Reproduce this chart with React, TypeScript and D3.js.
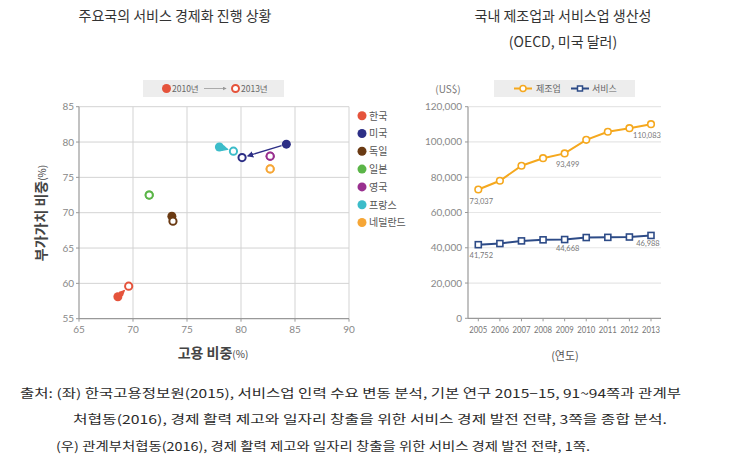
import React from 'react';
import * as d3 from 'd3';

// ---------- Left chart data ----------
const countries = ['한국', '미국', '독일', '일본', '영국', '프랑스', '네덜란드'];
const countryColors = ['#e5533b', '#2d2f86', '#6a3a13', '#5bb548', '#99308f', '#3cbcc9', '#f6a636'];
const emp2010 = [68.6, 84.2, 73.6, 71.5, 82.7, 78.0, 82.7];
const va2010 = [58.1, 79.7, 69.5, 72.5, 78.0, 79.3, 76.2];
const emp2013 = [69.6, 80.1, 73.7, 71.5, 82.7, 79.3, 82.7];
const va2013 = [59.6, 77.8, 68.8, 72.5, 78.0, 78.7, 76.2];
const arrowCountries = ['한국', '미국', '프랑스'];
const xTicksL = [65, 70, 75, 80, 85, 90];
const yTicksL = [55, 60, 65, 70, 75, 80, 85];

// ---------- Right chart data ----------
const years = ['2005', '2006', '2007', '2008', '2009', '2010', '2011', '2012', '2013'];
const manufacturing = [73037, 78000, 86500, 90800, 93499, 101200, 105800, 107800, 110083];
const services = [41752, 42400, 43900, 44500, 44668, 45800, 45900, 46100, 46988];
const labeledIdx = [0, 4, 8];
const yTicksR = [0, 20000, 40000, 60000, 80000, 100000, 120000];

const KR = '"Noto Sans CJK KR", "Noto Sans", sans-serif';

export default function App() {
  // left scales
  const xL = d3.scaleLinear().domain([65, 90]).range([79, 349]);
  const yL = d3.scaleLinear().domain([55, 85]).range([318.7, 106.7]);
  // right scales
  const xR = d3.scalePoint<string>().domain(years).range([478.3, 651]);
  const yR = d3.scaleLinear().domain([0, 120000]).range([318.3, 106.7]);
  const fmt = d3.format(',');

  const lineGen = (vals: number[]) =>
    d3.line<number>().x((_, i) => xR(years[i]) as number).y((v) => yR(v))(vals) as string;

  const arrowLine = (i: number) => {
    const x1 = xL(emp2010[i]), y1 = yL(va2010[i]);
    const x2 = xL(emp2013[i]), y2 = yL(va2013[i]);
    const dx = x2 - x1, dy = y2 - y1;
    const len = Math.sqrt(dx * dx + dy * dy);
    const ux = dx / len, uy = dy / len;
    const s = 5, e = 6;
    return { x1: x1 + ux * s, y1: y1 + uy * s, x2: x2 - ux * e, y2: y2 - uy * e };
  };

  return (
    <svg width={731} height={472} style={{ position: 'absolute', left: 0, top: 0, background: '#fff' }}
      fontFamily={KR}>
      <defs>
        {countries.map((c, i) => (
          <marker key={c} id={`ah${i}`} viewBox="0 0 6 6" refX={5} refY={3} markerWidth={5} markerHeight={5}
            orient="auto">
            <path d="M0,0 L6,3 L0,6 Z" fill={countryColors[i]} />
          </marker>
        ))}
        <marker id="ahgray" viewBox="0 0 6 6" refX={5} refY={3} markerWidth={5} markerHeight={5} orient="auto">
          <path d="M0,0 L6,3 L0,6 Z" fill="#999" />
        </marker>
      </defs>

      {/* Titles */}
      <text x={175} y={21} textAnchor="middle" fontSize={14} fill="#333">주요국의 서비스 경제화 진행 상황</text>
      <text x={563} y={21} textAnchor="middle" fontSize={14} fill="#333">국내 제조업과 서비스업 생산성</text>
      <text x={563} y={47} textAnchor="middle" fontSize={14} fill="#333">(OECD, 미국 달러)</text>

      {/* ---------- LEFT CHART ---------- */}
      {/* legend box */}
      <rect x={143} y={80} width={141} height={17} fill="#ededed" />
      <circle cx={166.5} cy={88.5} r={4.5} fill={countryColors[0]} />
      <text x={172} y={92} fontSize={8.5} fill="#666">2010년</text>
      <line x1={204} y1={88.5} x2={226} y2={88.5} stroke="#999" strokeWidth={0.8} markerEnd="url(#ahgray)" />
      <circle cx={235.5} cy={88.5} r={3.5} fill="#fff" stroke={countryColors[0]} strokeWidth={2} />
      <text x={241} y={92} fontSize={8.5} fill="#666">2013년</text>

      {/* grid */}
      {xTicksL.slice(1).map((t) => (
        <line key={'gx' + t} x1={xL(t)} x2={xL(t)} y1={yL(85)} y2={yL(55)} stroke="#d3d3d3" strokeWidth={1} />
      ))}
      {yTicksL.slice(1).map((t) => (
        <line key={'gy' + t} x1={xL(65)} x2={xL(90)} y1={yL(t)} y2={yL(t)} stroke="#d3d3d3" strokeWidth={1} />
      ))}
      {/* axes */}
      <line x1={xL(65)} x2={xL(65)} y1={yL(85)} y2={yL(55)} stroke="#999" strokeWidth={1.2} />
      <line x1={xL(65)} x2={xL(90)} y1={yL(55)} y2={yL(55)} stroke="#999" strokeWidth={1.2} />
      {xTicksL.map((t) => (
        <g key={'xt' + t}>
          <line x1={xL(t)} x2={xL(t)} y1={yL(55)} y2={yL(55) + 3} stroke="#999" />
          <text x={xL(t)} y={yL(55) + 14} textAnchor="middle" fontSize={10} fill="#888" fontFamily="Lato, sans-serif">{t}</text>
        </g>
      ))}
      {yTicksL.map((t) => (
        <g key={'yt' + t}>
          <line x1={xL(65) - 3} x2={xL(65)} y1={yL(t)} y2={yL(t)} stroke="#999" />
          <text x={xL(65) - 5} y={yL(t) + 3.5} textAnchor="end" fontSize={10} fill="#888" fontFamily="Lato, sans-serif">{t}</text>
        </g>
      ))}
      {/* axis titles */}
      <text x={213} y={358} textAnchor="middle" fill="#444">
        <tspan fontSize={14} fontWeight="bold">고용 비중</tspan>
        <tspan fontSize={10}>(%)</tspan>
      </text>
      <text transform="translate(46,213) rotate(-90)" textAnchor="middle" fill="#444">
        <tspan fontSize={14} fontWeight="bold">부가가치 비중</tspan>
        <tspan fontSize={10}>(%)</tspan>
      </text>

      {/* 2010 points */}
      {countries.map((c, i) => (
        <circle key={'p10' + c} cx={xL(emp2010[i])} cy={yL(va2010[i])} r={4.5} fill={countryColors[i]} />
      ))}
      {/* arrows */}
      {countries.map((c, i) => {
        if (!arrowCountries.includes(c)) return null;
        const a = arrowLine(i);
        return (
          <line key={'ar' + c} x1={a.x1} y1={a.y1} x2={a.x2} y2={a.y2} stroke={countryColors[i]}
            strokeWidth={1.3} markerEnd={`url(#ah${i})`} />
        );
      })}
      {/* 2013 points */}
      {countries.map((c, i) => (
        <circle key={'p13' + c} cx={xL(emp2013[i])} cy={yL(va2013[i])} r={3.6} fill="#fff"
          stroke={countryColors[i]} strokeWidth={2} />
      ))}
      {/* country legend */}
      {countries.map((c, i) => (
        <g key={'lg' + c}>
          <circle cx={362} cy={115.7 + i * 17.8} r={4.5} fill={countryColors[i]} />
          <text x={369} y={119.5 + i * 17.8} fontSize={10} fill="#555">{c}</text>
        </g>
      ))}

      {/* ---------- RIGHT CHART ---------- */}
      <text x={448} y={93} textAnchor="middle" fontSize={10} fill="#777">(US$)</text>
      <rect x={494} y={80} width={141} height={17} fill="#ededed" />
      <line x1={514} x2={532} y1={88.5} y2={88.5} stroke="#f5a81e" strokeWidth={2} />
      <circle cx={523} cy={88.5} r={3} fill="#fff" stroke="#f5a81e" strokeWidth={1.5} />
      <text x={536} y={92} fontSize={9} fill="#666">제조업</text>
      <line x1={571} x2={589} y1={88.5} y2={88.5} stroke="#2d4b87" strokeWidth={2} />
      <rect x={577.5} y={86} width={5} height={5} fill="#fff" stroke="#2d4b87" strokeWidth={1.5} />
      <text x={592} y={92} fontSize={9} fill="#666">서비스</text>

      {yTicksR.slice(1).map((t) => (
        <line key={'gr' + t} x1={468} x2={661} y1={yR(t)} y2={yR(t)} stroke="#e6e6e6" strokeWidth={1.2} />
      ))}
      <line x1={468} x2={468} y1={yR(120000)} y2={yR(0)} stroke="#999" strokeWidth={1.2} />
      <line x1={468} x2={661} y1={yR(0)} y2={yR(0)} stroke="#999" strokeWidth={1.2} />
      {yTicksR.map((t) => (
        <g key={'ytr' + t}>
          <line x1={465} x2={468} y1={yR(t)} y2={yR(t)} stroke="#999" />
          <text x={462} y={yR(t) + 3.5} textAnchor="end" fontSize={10} fill="#888" fontFamily="Lato, sans-serif">{fmt(t)}</text>
        </g>
      ))}
      {years.map((y) => (
        <g key={'xtr' + y}>
          <line x1={xR(y)} x2={xR(y)} y1={yR(0)} y2={yR(0) + 3} stroke="#999" />
          <text x={(xR(y) as number) - 9} y={yR(0) + 15} fontSize={10} fill="#777" fontFamily="Lato, sans-serif"
            textLength={18} lengthAdjust="spacingAndGlyphs">{y}</text>
        </g>
      ))}
      <text x={565} y={360} textAnchor="middle" fontSize={11} fill="#555">(연도)</text>

      <path d={lineGen(manufacturing)} fill="none" stroke="#f5a81e" strokeWidth={2} />
      <path d={lineGen(services)} fill="none" stroke="#2d4b87" strokeWidth={2} />
      {manufacturing.map((v, i) => (
        <circle key={'m' + i} cx={xR(years[i])} cy={yR(v)} r={3.3} fill="#fff" stroke="#f5a81e" strokeWidth={1.6} />
      ))}
      {services.map((v, i) => (
        <rect key={'s' + i} x={(xR(years[i]) as number) - 3} y={yR(v) - 3} width={6} height={6} fill="#fff"
          stroke="#2d4b87" strokeWidth={1.6} />
      ))}
      {labeledIdx.map((i) => (
        <g key={'lb' + i}>
          <text x={(xR(years[i]) as number) + (i === 8 ? -4 : 3)} y={yR(manufacturing[i]) + 14} textAnchor="middle"
            fontSize={7.5} fill="#777" fontFamily="Lato, sans-serif">{fmt(manufacturing[i])}</text>
          <text x={(xR(years[i]) as number) + (i === 8 ? -3 : 3)} y={yR(services[i]) + (i === 0 ? 13 : 11)}
            textAnchor="middle" fontSize={7.5} fill="#777" fontFamily="Lato, sans-serif">{fmt(services[i])}</text>
        </g>
      ))}

      {/* ---------- Footnote ---------- */}
      <text x={20} y={398} fontSize={12} fill="#2a2a2a" textLength={661} lengthAdjust="spacingAndGlyphs">
        출처: (좌) 한국고용정보원(2015), 서비스업 인력 수요 변동 분석, 기본 연구 2015−15, 91~94쪽과 관계부
      </text>
      <text x={73} y={424} fontSize={12} fill="#2a2a2a" textLength={594} lengthAdjust="spacingAndGlyphs">
        처협동(2016), 경제 활력 제고와 일자리 창출을 위한 서비스 경제 발전 전략, 3쪽을 종합 분석.
      </text>
      <text x={56} y={451} fontSize={12} fill="#2a2a2a" textLength={534} lengthAdjust="spacingAndGlyphs">
        (우) 관계부처협동(2016), 경제 활력 제고와 일자리 창출을 위한 서비스 경제 발전 전략, 1쪽.
      </text>
    </svg>
  );
}
